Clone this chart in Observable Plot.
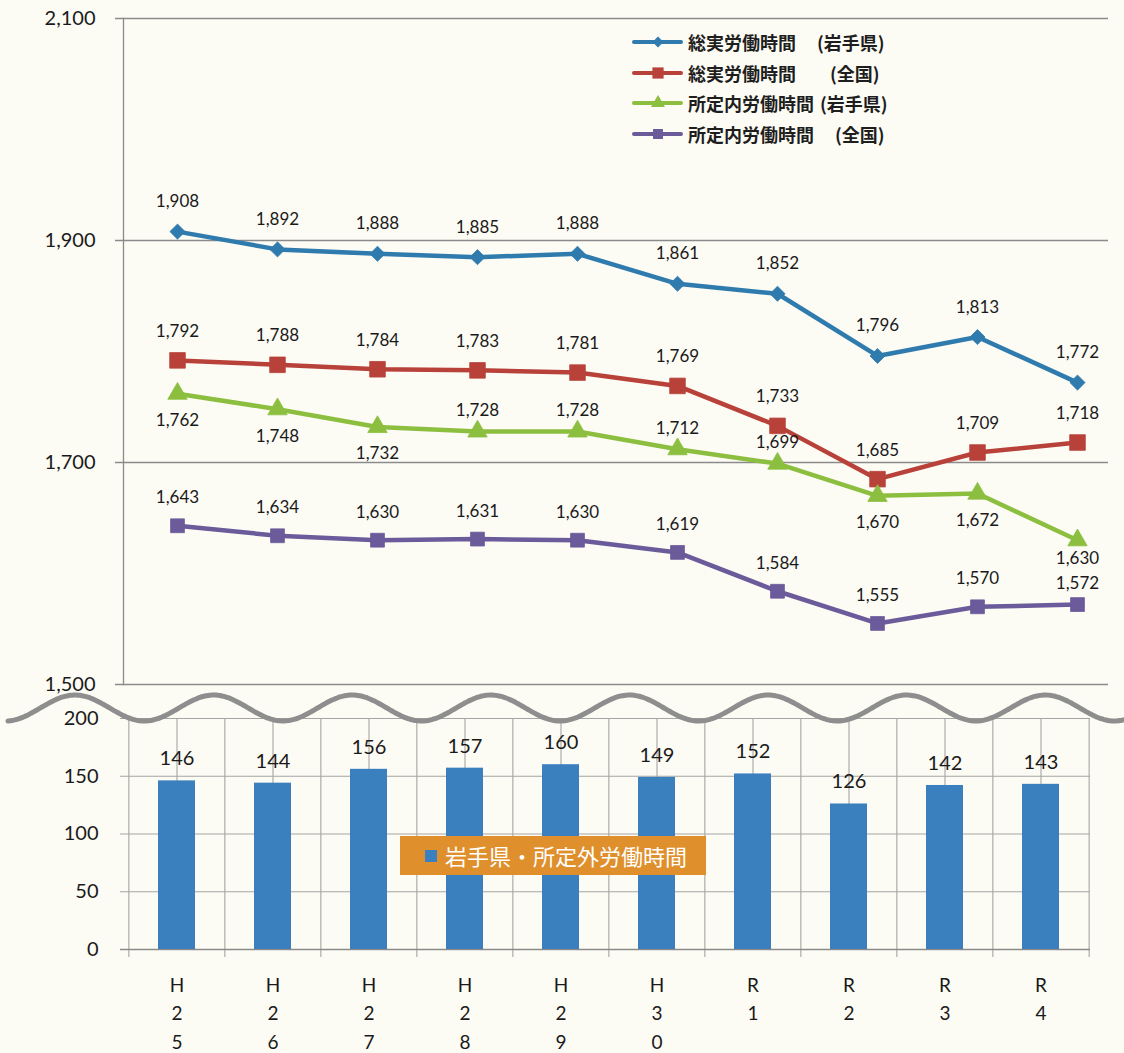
<!DOCTYPE html>
<html lang="ja">
<head>
<meta charset="utf-8">
<script src="https://cdn.jsdelivr.net/npm/d3@7"></script>
<script src="https://cdn.jsdelivr.net/npm/@observablehq/plot@0.6"></script>
<style>
  html, body { margin: 0; padding: 0; background: #fcfbf4; }
  #wrap { position: relative; width: 1124px; height: 1053px; overflow: hidden;
          font-family: Lato, "Noto Sans CJK JP", sans-serif; color: #1a1a1a; }
  .layer { position: absolute; left: 0; }
  .legend { top: 0; left: 0; width: 1124px; height: 160px; pointer-events: none; }
  .legend .row { position: absolute; left: 632px; height: 24px; }
  .legend .row svg { position: absolute; left: 0; top: 0; }
  .legend .name, .legend .area { position: absolute; top: 0; white-space: nowrap;
          font-family: "Noto Sans CJK JP", sans-serif; font-weight: 700; font-size: 18px;
          line-height: 24px; color: #1e1e1e; }
  .badge { position: absolute; width: 306px; height: 39px; background: #df8f2b;
           color: #fff; font-family: "Noto Sans CJK JP", sans-serif; font-size: 22px;
           line-height: 39px; box-sizing: border-box; padding-left: 45px; white-space: nowrap; }
  .badge::before { content: ""; position: absolute; left: 25px; top: 14px; width: 12px; height: 12px;
           background: #3a80bf; }
</style>
</head>
<body>
<div id="wrap"></div>
<script>
// Fiscal years (Heisei 25 – Reiwa 4)
const years = ["H25", "H26", "H27", "H28", "H29", "H30", "R1", "R2", "R3", "R4"];

// Annual working hours per worker
const totalIwate      = [1908, 1892, 1888, 1885, 1888, 1861, 1852, 1796, 1813, 1772]; // 総実労働時間 (岩手県)
const totalNational   = [1792, 1788, 1784, 1783, 1781, 1769, 1733, 1685, 1709, 1718]; // 総実労働時間 (全国)
const regularIwate    = [1762, 1748, 1732, 1728, 1728, 1712, 1699, 1670, 1672, 1630]; // 所定内労働時間 (岩手県)
const regularNational = [1643, 1634, 1630, 1631, 1630, 1619, 1584, 1555, 1570, 1572]; // 所定内労働時間 (全国)

// Overtime hours, Iwate (所定外労働時間)
const overtimeIwate = [146, 144, 156, 157, 160, 149, 152, 126, 142, 143];

// Axis ticks
const lineTicks = [1500, 1700, 1900, 2100];
const barTicks = [0, 50, 100, 150, 200];

// Series names / legend text
const seriesNames = ["総実労働時間", "総実労働時間", "所定内労働時間", "所定内労働時間"];
const seriesAreas = ["(岩手県)", "(全国)", "(岩手県)", "(全国)"];
const barSeriesName = "岩手県・所定外労働時間";

// Styling
const colors = ["#2f7bae", "#b8423a", "#8cbf3f", "#6b5b9a"];
const symbols = ["diamond2", "square", "triangle", "square"];
const symbolR = [6.8, 8.8, 7.2, 7.8];
const areaLeft = [185, 198, 188, 203];       // legend: x of the "(…)" part within a row
const legendTop = [30, 61, 91, 122];
const greenAbove = new Set(["H28", "H29", "H30", "R1"]); // green labels placed above the point
const tightLabel = new Set(["R4"]);                       // labels pulled closer where series crowd

const fmt = d3.format(",");
const seriesValues = [totalIwate, totalNational, regularIwate, regularNational];
const series = seriesValues.map((vals, s) => years.map((year, i) => ({year, value: vals[i], s})));
const bars = years.map((year, i) => ({year, value: overtimeIwate[i]}));

const wrap = document.getElementById("wrap");
const labelFont = "Lato, sans-serif";

// ---------- line chart (upper panel) ----------
const lineMarks = [
  Plot.ruleY(lineTicks, {stroke: "#8b8b8b", strokeWidth: 1.3, insetLeft: -8, insetRight: 16}),
  Plot.frame({anchor: "left", stroke: "#8b8b8b", strokeWidth: 1.3}),
  Plot.axisY({ticks: lineTicks, tickSize: 0, tickPadding: 28, tickFormat: fmt, label: null,
              fontSize: 20, fontFamily: labelFont, fill: "#1a1a1a"})
];
series.forEach((data, s) => {
  lineMarks.push(Plot.line(data, {x: "year", y: "value", stroke: colors[s], strokeWidth: 4.5,
                                  strokeLinejoin: "round"}));
  lineMarks.push(Plot.dot(data, {x: "year", y: "value", fill: colors[s], stroke: colors[s],
                                 strokeWidth: 0.8, symbol: symbols[s], r: symbolR[s]}));
});
const labelOpts = {x: "year", y: "value", text: d => fmt(d.value), fontSize: 17,
                   fontFamily: labelFont, fill: "#1a1a1a"};
const greenBelow = series[2].filter(d => !greenAbove.has(d.year));
lineMarks.push(
  Plot.text(series[0], {...labelOpts, dy: -30}),
  Plot.text(series[1], {...labelOpts, dy: -29}),
  Plot.text(greenBelow.filter(d => !tightLabel.has(d.year)), {...labelOpts, dy: 27}),
  Plot.text(greenBelow.filter(d => tightLabel.has(d.year)), {...labelOpts, dy: 18}),
  Plot.text(series[2].filter(d => greenAbove.has(d.year)), {...labelOpts, dy: -21}),
  Plot.text(series[3].filter(d => !tightLabel.has(d.year)), {...labelOpts, dy: -28}),
  Plot.text(series[3].filter(d => tightLabel.has(d.year)), {...labelOpts, dy: -21})
);

const linePlot = Plot.plot({
  width: 1124, height: 700,
  marginTop: 18, marginBottom: 16, marginLeft: 123, marginRight: 0,
  style: {background: "transparent", overflow: "visible"},
  x: {type: "point", domain: years, padding: 0.5, range: [123, 1131], axis: null},
  y: {domain: [1500, 2100], axis: null},
  marks: lineMarks
});
linePlot.classList.add("layer");
linePlot.style.top = "0px";
wrap.appendChild(linePlot);

// ---------- bar chart (lower panel) ----------
const step = (1124 - 127 - 34) / years.length;
const gridColor = "#a5a5a5";
const barPlot = Plot.plot({
  width: 1124, height: 353,
  marginTop: 18, marginBottom: 104, marginLeft: 127, marginRight: 34,
  style: {background: "transparent", overflow: "visible"},
  x: {type: "band", domain: years, paddingInner: 0.615, paddingOuter: 0.3075, axis: null},
  y: {domain: [0, 200], axis: null},
  marks: [
    Plot.ruleY(barTicks, {stroke: gridColor, strokeWidth: 1.1, insetLeft: -7}),
    Plot.ruleX(years, {stroke: gridColor, strokeWidth: 1.1}),
    Plot.ruleX(years, {stroke: gridColor, strokeWidth: 1.1, dx: -step / 2, insetBottom: -8}),
    Plot.ruleX(years.slice(-1), {stroke: gridColor, strokeWidth: 1.1, dx: step / 2, insetBottom: -8}),
    Plot.ruleY([0], {stroke: "#8b8b8b", strokeWidth: 1.3, insetLeft: -7}),
    Plot.barY(bars, {x: "year", y: "value", fill: "#3a80bf"}),
    Plot.text(bars, {x: "year", y: "value", text: "value", dy: -22, fontSize: 20,
                     fontFamily: labelFont, fill: "#1a1a1a"}),
    Plot.axisY({ticks: barTicks, tickSize: 0, tickPadding: 29, fontSize: 20, label: null,
                fontFamily: labelFont, fill: "#1a1a1a"}),
    Plot.axisX({tickSize: 0, tickPadding: 22, lineHeight: 1.5, fontSize: 19, label: null,
                fontFamily: labelFont, fill: "#1a1a1a",
                tickFormat: d => d.split("").join("\n")})
  ]
});
barPlot.classList.add("layer");
barPlot.style.top = "700px";
wrap.appendChild(barPlot);

// ---------- axis break (wavy line between the panels) ----------
const brk = d3.create("svg").attr("class", "layer").attr("width", 1124).attr("height", 1053)
  .style("top", "0px").style("pointer-events", "none");
const waveX = d3.range(8, 1126, 2);
brk.append("path")
  .attr("d", d3.line().curve(d3.curveBasis)(waveX.map(x => [x, 708 - 13 * Math.cos(2 * Math.PI * (x - 75) / 138.6)])))
  .attr("fill", "none").attr("stroke", "#8e8e8e").attr("stroke-width", 5).attr("stroke-linecap", "round");
wrap.appendChild(brk.node());

// ---------- legend for the line chart ----------
const legend = document.createElement("div");
legend.className = "layer legend";
const symMap = {diamond2: d3.symbolDiamond2, square: d3.symbolSquare, triangle: d3.symbolTriangle};
seriesNames.forEach((name, s) => {
  const row = document.createElement("div");
  row.className = "row";
  row.style.top = legendTop[s] + "px";
  const sw = d3.create("svg").attr("width", 52).attr("height", 24);
  sw.append("line").attr("x1", 2).attr("x2", 49).attr("y1", 12).attr("y2", 12)
    .attr("stroke", colors[s]).attr("stroke-width", 4).attr("stroke-linecap", "round");
  sw.append("path").attr("transform", "translate(26,12)")
    .attr("d", d3.symbol(symMap[symbols[s]], Math.PI * (symbolR[s] * 0.72) ** 2)())
    .attr("fill", colors[s]);
  row.appendChild(sw.node());
  const n = document.createElement("span");
  n.className = "name"; n.style.left = "56px"; n.textContent = name;
  const a = document.createElement("span");
  a.className = "area"; a.style.left = areaLeft[s] + "px"; a.textContent = seriesAreas[s];
  row.append(n, a);
  legend.appendChild(row);
});
wrap.appendChild(legend);

// ---------- series label for the bar chart ----------
const badge = document.createElement("div");
badge.className = "badge";
badge.style.left = "400px";
badge.style.top = "836px";
badge.textContent = barSeriesName;
wrap.appendChild(badge);
</script>
</body>
</html>
